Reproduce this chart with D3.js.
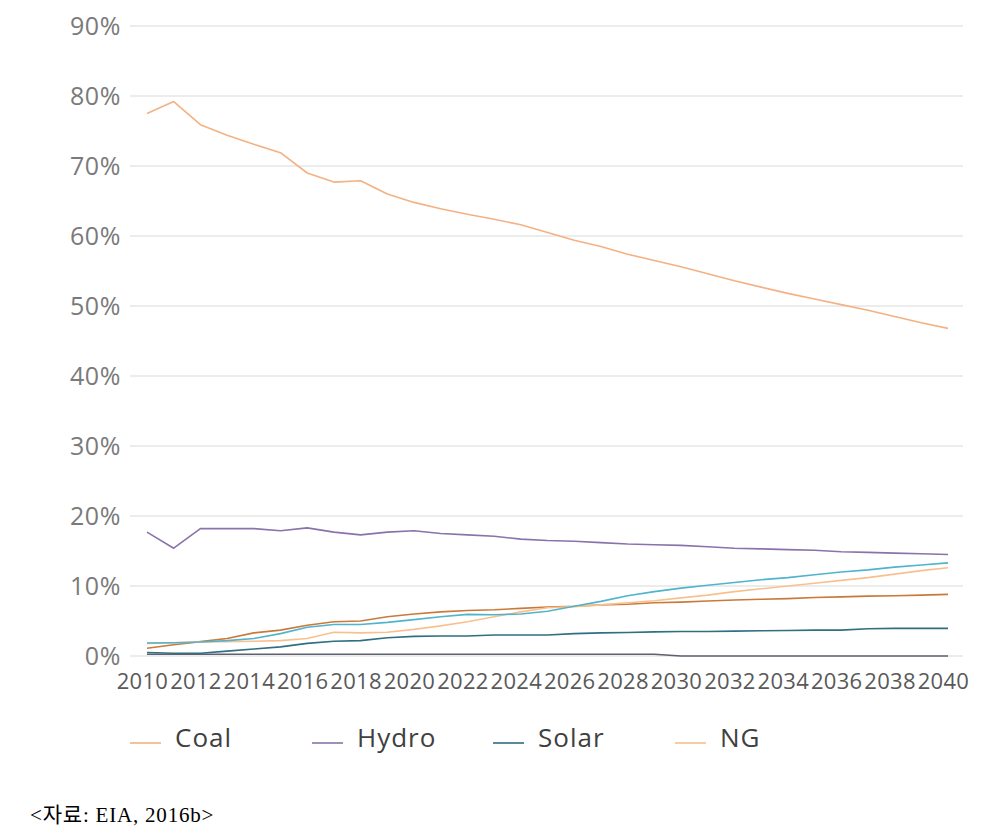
<!DOCTYPE html>
<html><head><meta charset="utf-8">
<script src="https://cdn.jsdelivr.net/npm/d3@7"></script>
<style>
body{margin:0;background:#fff;}
svg{display:block;}
</style></head>
<body>
<svg id="c" width="987" height="837"></svg>
<script>
const years = d3.range(2010, 2041);
const yTicks = [0,10,20,30,40,50,60,70,80,90];
const xTicks = d3.range(2010, 2041, 2);

const coal  = [77.5,79.2,75.9,74.4,73.1,71.9,69.0,67.7,67.9,66.0,64.8,63.9,63.1,62.4,61.6,60.5,59.4,58.5,57.4,56.5,55.6,54.6,53.6,52.7,51.8,51.0,50.2,49.4,48.5,47.6,46.8];
const hydro = [17.7,15.4,18.2,18.2,18.2,17.9,18.3,17.7,17.3,17.7,17.9,17.5,17.3,17.1,16.7,16.5,16.4,16.2,16.0,15.9,15.8,15.6,15.4,15.3,15.2,15.1,14.9,14.8,14.7,14.6,14.5];
const solar = [0.5,0.4,0.4,0.7,1.0,1.3,1.8,2.1,2.2,2.6,2.8,2.85,2.85,3.0,3.0,3.0,3.2,3.3,3.35,3.45,3.5,3.5,3.55,3.6,3.65,3.7,3.7,3.9,3.95,3.95,3.95];
const ng    = [1.8,1.9,2.0,2.05,2.1,2.2,2.5,3.4,3.3,3.4,3.8,4.3,4.9,5.6,6.3,6.9,7.05,7.3,7.6,7.9,8.3,8.7,9.2,9.6,10.0,10.4,10.8,11.2,11.7,12.2,12.6];
const cyan  = [1.85,1.9,2.0,2.2,2.5,3.2,4.1,4.5,4.5,4.8,5.2,5.6,5.95,5.9,6.0,6.4,7.1,7.8,8.6,9.2,9.7,10.1,10.5,10.9,11.2,11.6,12.0,12.3,12.7,13.0,13.3];
const brown = [1.1,1.6,2.05,2.5,3.3,3.7,4.4,4.9,5.0,5.6,6.0,6.3,6.5,6.6,6.8,7.0,7.1,7.3,7.4,7.6,7.7,7.85,8.0,8.1,8.2,8.35,8.45,8.55,8.6,8.7,8.8];
const gray  = [0.25,0.25,0.25,0.25,0.25,0.25,0.25,0.25,0.25,0.25,0.25,0.25,0.25,0.25,0.25,0.25,0.25,0.25,0.25,0.25,0,0,0,0,0,0,0,0,0,0,0];

const series = [
  {name:"gray",  values:gray,  color:"#5f6070"},
  {name:"Solar", values:solar, color:"#2f6f7f"},
  {name:"brown", values:brown, color:"#c97a3a"},
  {name:"NG",    values:ng,    color:"#f9c08f"},
  {name:"cyan",  values:cyan,  color:"#4fb4cc"},
  {name:"Hydro", values:hydro, color:"#8a72aa"},
  {name:"Coal",  values:coal,  color:"#f4b183"}
];
const legendItems = [
  {name:"Coal",  color:"#f4b183"},
  {name:"Hydro", color:"#8a72aa"},
  {name:"Solar", color:"#2f6f7f"},
  {name:"NG",    color:"#f9c08f"}
];

const svg = d3.select("#c");
const x = d3.scaleLinear().domain([2010, 2040]).range([147, 948]);
const y = d3.scaleLinear().domain([0, 90]).range([656, 26]);

// grid
svg.append("g").selectAll("line").data(yTicks).join("line")
  .attr("x1", 130).attr("x2", 963)
  .attr("y1", d => y(d)).attr("y2", d => y(d))
  .attr("stroke", "#d9d9d9").attr("stroke-width", 1);

// y axis labels
const yAxis = d3.axisLeft(y).tickValues(yTicks).tickFormat(d => d + "%").tickSize(0).tickPadding(0);
const ya = svg.append("g").attr("transform", "translate(121,0)").call(yAxis);
ya.select(".domain").remove();
ya.selectAll("text").attr("font-family", "'Open Sans', sans-serif").attr("font-size", 25)
  .attr("letter-spacing", "0.6px")
  .attr("fill", "#7a7a7a").attr("dy", "0.35em");

// x axis labels
const xAxis = d3.axisBottom(x).tickValues(xTicks).tickFormat(d3.format("d")).tickSize(0).tickPadding(0);
const xa = svg.append("g").attr("transform", "translate(-5,673)").call(xAxis);
xa.select(".domain").remove();
xa.selectAll("text").attr("font-family", "'Open Sans', sans-serif").attr("font-size", 22)
  .attr("letter-spacing", "0.3px")
  .attr("fill", "#595959").attr("dy", "0.71em");

// lines
const line = d3.line().x((d, i) => x(years[i])).y(d => y(d));
svg.append("g").selectAll("path").data(series).join("path")
  .attr("d", d => line(d.values))
  .attr("fill", "none").attr("stroke", d => d.color).attr("stroke-width", 1.6)
  .attr("stroke-linejoin", "round");

// legend
const legX = [130, 312, 493, 675];
const lg = svg.append("g").selectAll("g").data(legendItems).join("g")
  .attr("transform", (d, i) => `translate(${legX[i]},738)`);
lg.append("line").attr("x1", 0).attr("x2", 31).attr("y1", 5).attr("y2", 5)
  .attr("stroke", d => d.color).attr("stroke-width", 1.6);
lg.append("text").attr("x", 45).attr("y", 0).attr("dy", "0.35em")
  .attr("font-family", "'Open Sans', sans-serif").attr("font-size", 26).attr("fill", "#404040")
  .attr("letter-spacing", "1px")
  .text(d => d.name);

// source
svg.append("text").attr("x", 30).attr("y", 822)
  .attr("font-family", "'Liberation Serif', 'Noto Sans CJK KR', serif").attr("font-size", 21).attr("fill", "#000")
  .attr("letter-spacing", "0.8px")
  .text("<자료: EIA, 2016b>");
</script>
</body></html>
